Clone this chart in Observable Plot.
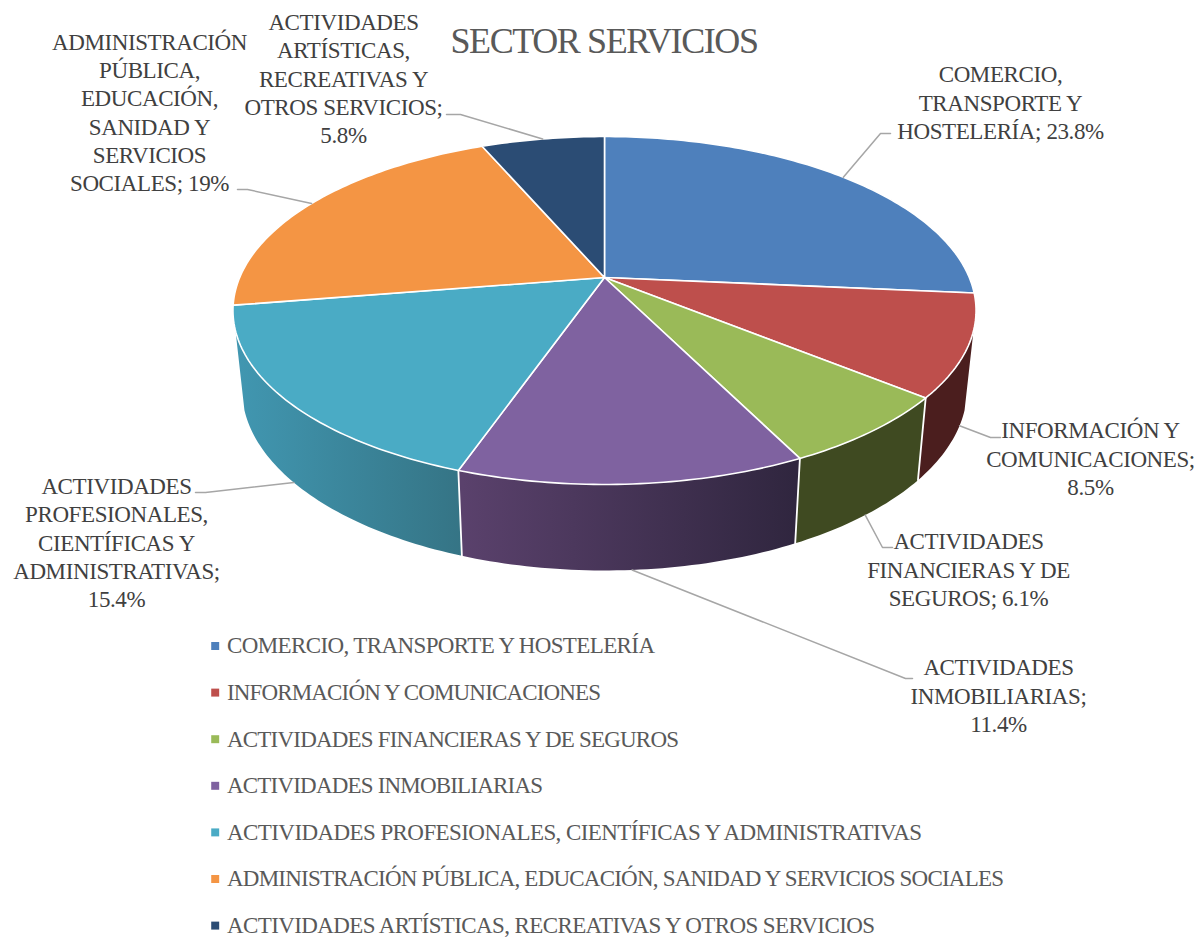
<!DOCTYPE html>
<html><head><meta charset="utf-8">
<script src="https://cdn.jsdelivr.net/npm/d3@7"></script>
<script src="https://cdn.jsdelivr.net/npm/@observablehq/plot@0.6"></script>
<style>html,body{margin:0;padding:0;background:#fff}svg{display:block}</style>
</head><body><div id="chart"></div>
<script>
const title = "SECTOR SERVICIOS";
const categories = [
  "COMERCIO, TRANSPORTE Y HOSTELERÍA",
  "INFORMACIÓN Y COMUNICACIONES",
  "ACTIVIDADES FINANCIERAS Y DE SEGUROS",
  "ACTIVIDADES INMOBILIARIAS",
  "ACTIVIDADES PROFESIONALES, CIENTÍFICAS Y ADMINISTRATIVAS",
  "ADMINISTRACIÓN PÚBLICA, EDUCACIÓN, SANIDAD Y SERVICIOS SOCIALES",
  "ACTIVIDADES ARTÍSTICAS, RECREATIVAS Y OTROS SERVICIOS"
];
const values = [23.8, 8.5, 6.1, 11.4, 15.4, 19, 5.8];
const labelTexts = [
  "COMERCIO,\nTRANSPORTE Y\nHOSTELERÍA; 23.8%",
  "INFORMACIÓN Y\nCOMUNICACIONES;\n8.5%",
  "ACTIVIDADES\nFINANCIERAS Y DE\nSEGUROS; 6.1%",
  "ACTIVIDADES\nINMOBILIARIAS;\n11.4%",
  "ACTIVIDADES\nPROFESIONALES,\nCIENTÍFICAS Y\nADMINISTRATIVAS;\n15.4%",
  "ADMINISTRACIÓN\nPÚBLICA,\nEDUCACIÓN,\nSANIDAD Y\nSERVICIOS\nSOCIALES; 19%",
  "ACTIVIDADES\nARTÍSTICAS,\nRECREATIVAS Y\nOTROS SERVICIOS;\n5.8%"
];
const topColors = ["#4e80bc","#be4f4c","#9aba58","#7f62a0","#4aabc5","#f49544","#2b4c74"];
const sideFills = [null,"#4b1e1e","#3f4a21","url(#sidePurple)","url(#sideTeal)",null,null];

// layout
const W = 1202, H = 937;
const labelCentre = [[1000,101],[1090,457],[968,568],[998,694],[116,541],[149,111],[343,77]];
const leaderBend = [[[880,133],[890,133]],[[990,437],[1000,437]],[[882,547],[892,547]],[[905,678],[912,678]],[[205,492],[195,492]],[[247,189],[237,189]],[[460,114],[446,114]]];
const anchorOnBottomRim = [false,true,true,true,true,false,false];
const visibleWall = [107.5, 252.5];
const legendWidths = [428,374,452,316,695,777,648];
const font = "Liberation Serif";

// pie projection (perspective ellipse)
const cx = 604, k = 0.1897;
const topDisk = {cy: 277, R: 364.8, S: 167.7};
const botDisk = {cy: 354, R: 356, S: 175};
const project = (deg, d) => {
  const a = deg * Math.PI / 180, u = Math.sin(a), v = Math.cos(a), w = 1 + k * v;
  return {x: cx + d.R * u / w, y: d.cy - d.S * v / w};
};
const total = d3.sum(values);
let run = 0;
const slices = values.map((v, i) => {
  const a0 = run / total * 360; run += v;
  return {i, a0, a1: run / total * 360, mid: (a0 + run / total * 360) / 2};
});
const arc = (a0, a1, d) => {
  const n = Math.max(2, Math.ceil(a1 - a0));
  return d3.range(n + 1).map(j => project(a0 + (a1 - a0) * j / n, d));
};
const hub = {x: cx, y: topDisk.cy};

const marks = [];
marks.push(() => {
  const defs = d3.create("svg:defs");
  const grad = (id, x1, x2, c1, c2) => {
    const g = defs.append("linearGradient").attr("id", id).attr("gradientUnits", "userSpaceOnUse")
      .attr("x1", x1).attr("x2", x2).attr("y1", 0).attr("y2", 0);
    g.append("stop").attr("offset", 0).attr("stop-color", c1);
    g.append("stop").attr("offset", 1).attr("stop-color", c2);
  };
  grad("sideTeal", 235, 462, "#4197b1", "#357485");
  grad("sidePurple", 462, 794, "#5a416c", "#30263f");
  return defs.node();
});
// side walls
slices.filter(s => sideFills[s.i]).forEach(s => {
  const a0 = Math.max(s.a0, visibleWall[0]), a1 = Math.min(s.a1, visibleWall[1]);
  const pts = [...arc(a0, a1, topDisk), ...arc(a0, a1, botDisk).reverse()];
  marks.push(Plot.line(pts, {x: "x", y: "y", fill: sideFills[s.i], stroke: "none", curve: "linear-closed"}));
});
slices.filter(s => sideFills[s.i] && s.i > 1).forEach(s => {
  marks.push(Plot.line([project(s.a0, topDisk), project(s.a0, botDisk)], {x: "x", y: "y", stroke: "#fff", strokeWidth: 1.8}));
});
// top faces
slices.forEach(s => {
  marks.push(Plot.line([hub, ...arc(s.a0, s.a1, topDisk)], {x: "x", y: "y", fill: topColors[s.i], stroke: "#fff", strokeWidth: 1.6, strokeLinejoin: "round", curve: "linear-closed"}));
});
// leaders
slices.forEach(s => {
  const start = project(s.mid, anchorOnBottomRim[s.i] ? botDisk : topDisk);
  const pts = [start, ...leaderBend[s.i].map(([x, y]) => ({x, y}))];
  marks.push(Plot.line(pts, {x: "x", y: "y", stroke: "#a6a6a6", strokeWidth: 1.5}));
});
// labels
const spaced = sp => (i, sc, v, d, c, next) => { const g = next(i, sc, v, d, c); g.setAttribute("letter-spacing", sp); return g; };
const fitted = (i, sc, v, d, c, next) => {
  const g = next(i, sc, v, d, c);
  g.querySelectorAll("text").forEach((t, n) => {
    t.setAttribute("textLength", legendWidths[n]);
    t.setAttribute("lengthAdjust", "spacing");
  });
  return g;
};
marks.push(Plot.text(slices, {
  x: s => labelCentre[s.i][0], y: s => labelCentre[s.i][1], text: s => labelTexts[s.i],
  fontFamily: font, fontSize: 23, lineHeight: 1.233, fill: "#404040", textAnchor: "middle", render: spaced("-0.4px")
}));
// title
marks.push(Plot.text([title], {x: () => 603.5, y: () => 41, text: d => d, fontFamily: font, fontSize: 36, fill: "#595959", textAnchor: "middle", render: spaced("-1.4px")}));
// legend
const legendTop = 645.5, legendStep = 46.6;
marks.push(Plot.dot(categories, {x: () => 214.7, y: (d, i) => legendTop + i * legendStep, r: 4.5, symbol: "square", fill: (d, i) => topColors[i], stroke: "none"}));
marks.push(Plot.text(categories, {x: () => 226.5, y: (d, i) => legendTop + i * legendStep, text: d => d, fontFamily: font, fontSize: 23, fill: "#595959", textAnchor: "start", render: fitted}));

const chart = Plot.plot({
  width: W, height: H, margin: 0,
  x: {domain: [0, W], range: [0, W], axis: null},
  y: {domain: [0, H], range: [0, H], axis: null},
  style: {background: "#fff"},
  marks
});
document.getElementById("chart").append(chart);
</script></body></html>
